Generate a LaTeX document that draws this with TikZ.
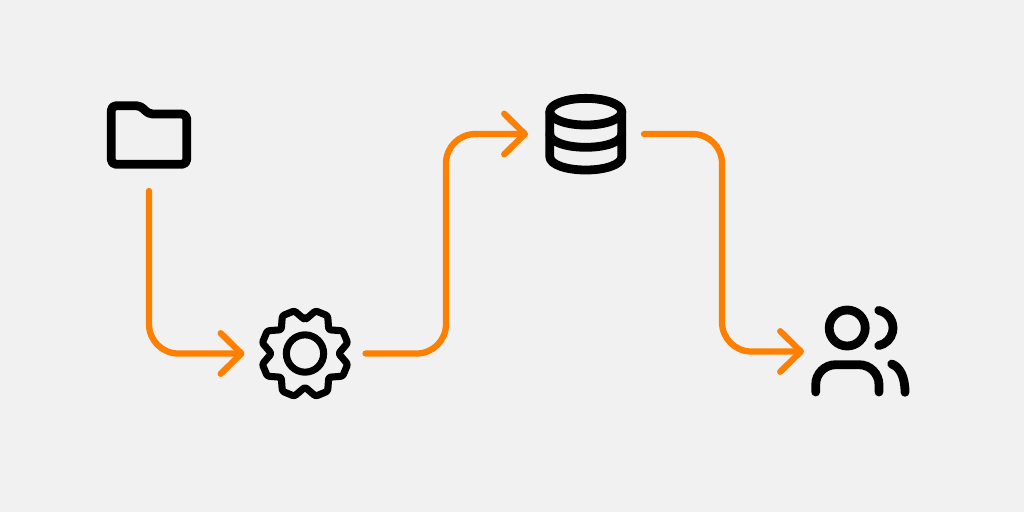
\documentclass[tikz,border=0pt]{standalone}
\usetikzlibrary{arrows.meta}
\definecolor{bgc}{HTML}{F1F1F1}
\definecolor{flow}{HTML}{FF8000}
\begin{document}
\begin{tikzpicture}[x=0.75pt,y=-0.75pt,
  icon/.style={line width=6.6pt,line cap=round,line join=round,draw=black},
  gearline/.style={line width=5.3pt,line cap=round,line join=round,draw=black},
  anchorbox/.style={inner sep=0pt,outer sep=0pt,minimum width=#1*0.75pt},
  link/.style={draw=flow,line width=4.7pt,line cap=round,line join=round,rounded corners=22pt,
    -{Straight Barb[length=15.5pt,width=30.5pt,round,line width=4.7pt]}}]
\fill[bgc] (0,0) rectangle (1024,512);
\useasboundingbox (0,0) rectangle (1024,512);
% invisible anchor nodes marking where each connector meets an icon
\node[anchorbox=84,minimum height=84pt] (folder) at (149,135) {};
\node[anchorbox=121,minimum height=75pt] (gear) at (305,353.5) {};
\node[anchorbox=116,minimum height=60pt] (db) at (586,134) {};
\node[anchorbox=116,minimum height=75pt] (users) at (862,351.5) {};
% folder
\draw[icon,rounded corners=3.5pt] (111.3,105.7) -- (141,105.7) -- (148,114) -- (186.7,114) -- (186.7,164.3) -- (111.3,164.3) -- cycle;
% gear
\draw[gearline,rounded corners=1.6pt] (gear.center)
  ++(90:25.2pt)
  \foreach \k in {0,1,...,7}{
    -- ([shift={(90-\k*45:25.2pt)}]gear.center)
    -- ([shift={(90-\k*45-14:33pt)}]gear.center)
    -- ([shift={(90-\k*45-31:33pt)}]gear.center)
  } -- cycle;
\draw[gearline] (gear.center) circle[radius=14pt];
% database
\draw[icon] (585.8,111.7) ellipse[x radius=27pt,y radius=10pt];
\draw[icon] (549.8,111.7) -- (549.8,156.7) .. controls (549.8,164.5) and (566,170) .. (585.8,170) .. controls (605.6,170) and (621.8,164.5) .. (621.8,156.7) -- (621.8,111.7);
\draw[icon] (549.8,134) .. controls (549.8,141.8) and (566,147.3) .. (585.8,147.3) .. controls (605.6,147.3) and (621.8,141.8) .. (621.8,134);
% users
\draw[icon] (847.2,328) circle[radius=13.5pt];
\draw[icon] ([shift={(78:13.5pt)}]875,328) arc[start angle=78,end angle=-78,radius=13.5pt];
\draw[icon,rounded corners=15pt] (815.7,392) -- (815.7,364.7) -- (879,364.7) -- (879,392);
\draw[icon] (891.7,364) .. controls (900,367) and (905,377) .. (905,392.3);
% connectors
\draw[link] (folder.south) |- (gear.west);
\draw[link] (gear.east) -- (446,353.5) -- (446,134) -- (db.west);
\draw[link] (db.east) -- (722,134) -- (722,351.5) -- (users.west);
\end{tikzpicture}
\end{document}
